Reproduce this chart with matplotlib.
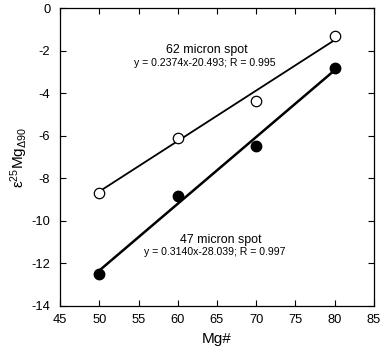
import matplotlib.pyplot as plt
import numpy as np

plt.rcParams['font.family'] = ['Liberation Sans', 'DejaVu Sans']
plt.rcParams['axes.unicode_minus'] = False

mg = [50, 60, 70, 80]
eps62 = [-8.7, -6.1, -4.35, -1.3]
eps47 = [-12.5, -8.85, -6.5, -2.8]

fit62 = [0.2374, -20.493]
fit47 = [0.3140, -28.039]

xticks = [45, 50, 55, 60, 65, 70, 75, 80, 85]
yticks = [-14, -12, -10, -8, -6, -4, -2, 0]

fig = plt.figure(figsize=(3.8, 3.52), dpi=100)
ax = fig.add_axes([0.158, 0.131, 0.826, 0.846])

xs = np.array([mg[0], mg[-1]])
ax.plot(xs, fit62[0] * xs + fit62[1], color='black', lw=1.3, zorder=2)
ax.plot(xs, fit47[0] * xs + fit47[1], color='black', lw=1.8, zorder=2)
ax.plot(mg, eps62, 'o', ms=7.5, mfc='white', mec='black', mew=0.9, zorder=3)
ax.plot(mg, eps47, 'o', ms=7.5, mfc='black', mec='black', zorder=3)

ax.text(63.66, -1.97, '62 micron spot', ha='center', va='center', fontsize=8.9)
ax.text(63.5, -2.6, 'y = 0.2374x-20.493; R = 0.995', ha='center', va='center', fontsize=7.6)
ax.text(65.45, -10.9, '47 micron spot', ha='center', va='center', fontsize=8.9)
ax.text(64.75, -11.46, 'y = 0.3140x-28.039; R = 0.997', ha='center', va='center', fontsize=7.6)

ax.set_xlim(45, 85)
ax.set_ylim(-14, 0)
ax.set_xticks(xticks)
ax.set_yticks(yticks)
ax.tick_params(direction='in', top=True, right=True, labelsize=9.3, length=4, width=0.8)
ax.tick_params(axis='x', pad=6)
ax.tick_params(axis='y', pad=7)
for s in ax.spines.values():
    s.set_linewidth(0.9)
ax.set_xlabel('Mg#', fontsize=11, labelpad=4)
ax.set_ylabel(r'$\mathregular{\epsilon^{25}Mg_{\Delta 90}}$', fontsize=11, labelpad=1)

fig.savefig('out.png', dpi=100)
